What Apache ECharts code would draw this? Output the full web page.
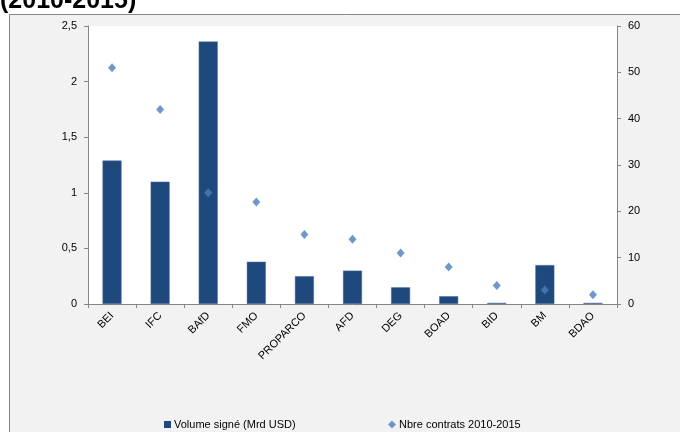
<!DOCTYPE html>
<html>
<head>
<meta charset="utf-8">
<script src="https://cdn.jsdelivr.net/npm/echarts@6/dist/echarts.min.js"></script>
<style>
html,body{margin:0;padding:0;background:#fff;}
#c{width:680px;height:432px;}
</style>
</head>
<body>
<div id="c"></div>
<script>
var categories = ['BEI','IFC','BAfD','FMO','PROPARCO','AFD','DEG','BOAD','BID','BM','BDAO'];
var volumeSigne = [1.29, 1.10, 2.36, 0.38, 0.25, 0.30, 0.15, 0.07, 0.01, 0.35, 0.01];
var nbreContrats = [51, 42, 24, 22, 15, 14, 11, 8, 4, 3, 2];
var seriesNames = ['Volume signé (Mrd USD)', 'Nbre contrats 2010-2015'];
var titleText = '(2010-2015)';

var chart = echarts.init(document.getElementById('c'), null, {renderer:'canvas'});
var font = 'Liberation Sans, Arial, sans-serif';
chart.setOption({
  animation: false,
  backgroundColor: '#ffffff',
  graphic: [
    {type:'rect', z:-10, shape:{x:9.5, y:14.5, width:700, height:430}, style:{fill:'#f2f2f2', stroke:'#868686', lineWidth:1}},
    {type:'text', z:10, left:0, top:-11, style:{text:titleText, font:'bold 25px Liberation Sans, Arial, sans-serif', fill:'#000'}}
  ],
  grid: {left:88, right:63, top:26, bottom:128, show:true, backgroundColor:'#ffffff', borderWidth:0},
  legend: [
    {data:[{name:seriesNames[0], icon:'rect', itemStyle:{borderWidth:0}}], left:159, top:414, itemWidth:7, itemHeight:7, itemGap:0,
     textStyle:{fontFamily:font, fontSize:11, color:'#000', padding:[0,0,0,-2]}},
    {data:[{name:seriesNames[1], icon:'diamond'}], left:383, top:414, itemWidth:8, itemHeight:8, itemGap:0,
     textStyle:{fontFamily:font, fontSize:11, color:'#000', padding:[0,0,0,-2]}}
  ],
  xAxis: {
    type:'category', data:categories,
    axisLine:{show:true, lineStyle:{color:'#868686'}},
    axisTick:{show:true, alignWithLabel:false, length:4, lineStyle:{color:'#868686'}},
    axisLabel:{rotate:45, fontFamily:font, fontSize:11, color:'#000', margin:10, interval:0},
    splitLine:{show:false}
  },
  yAxis: [
    {type:'value', min:0, max:2.5, interval:0.5, position:'left',
     axisLine:{show:true, lineStyle:{color:'#868686'}},
     axisTick:{show:true, length:4, lineStyle:{color:'#868686'}},
     axisLabel:{fontFamily:font, fontSize:11, color:'#000', margin:11,
       formatter:function(v){return String(v).replace('.', ',');}},
     splitLine:{show:false}},
    {type:'value', min:0, max:60, interval:10, position:'right',
     axisLine:{show:true, lineStyle:{color:'#868686'}},
     axisTick:{show:true, length:4, lineStyle:{color:'#868686'}},
     axisLabel:{fontFamily:font, fontSize:11, color:'#000', margin:11},
     splitLine:{show:false}}
  ],
  series: [
    {name:seriesNames[0], type:'bar', data:volumeSigne, yAxisIndex:0, barWidth:19,
     itemStyle:{color:'#1f497d', borderColor:'#4a6f9e', borderWidth:0.5}},
    {name:seriesNames[1], type:'scatter', data:nbreContrats, yAxisIndex:1, symbol:'diamond', symbolSize:[8,9],
     itemStyle:{color:'#4a7ebb'}}
  ]
});
</script>
</body>
</html>
